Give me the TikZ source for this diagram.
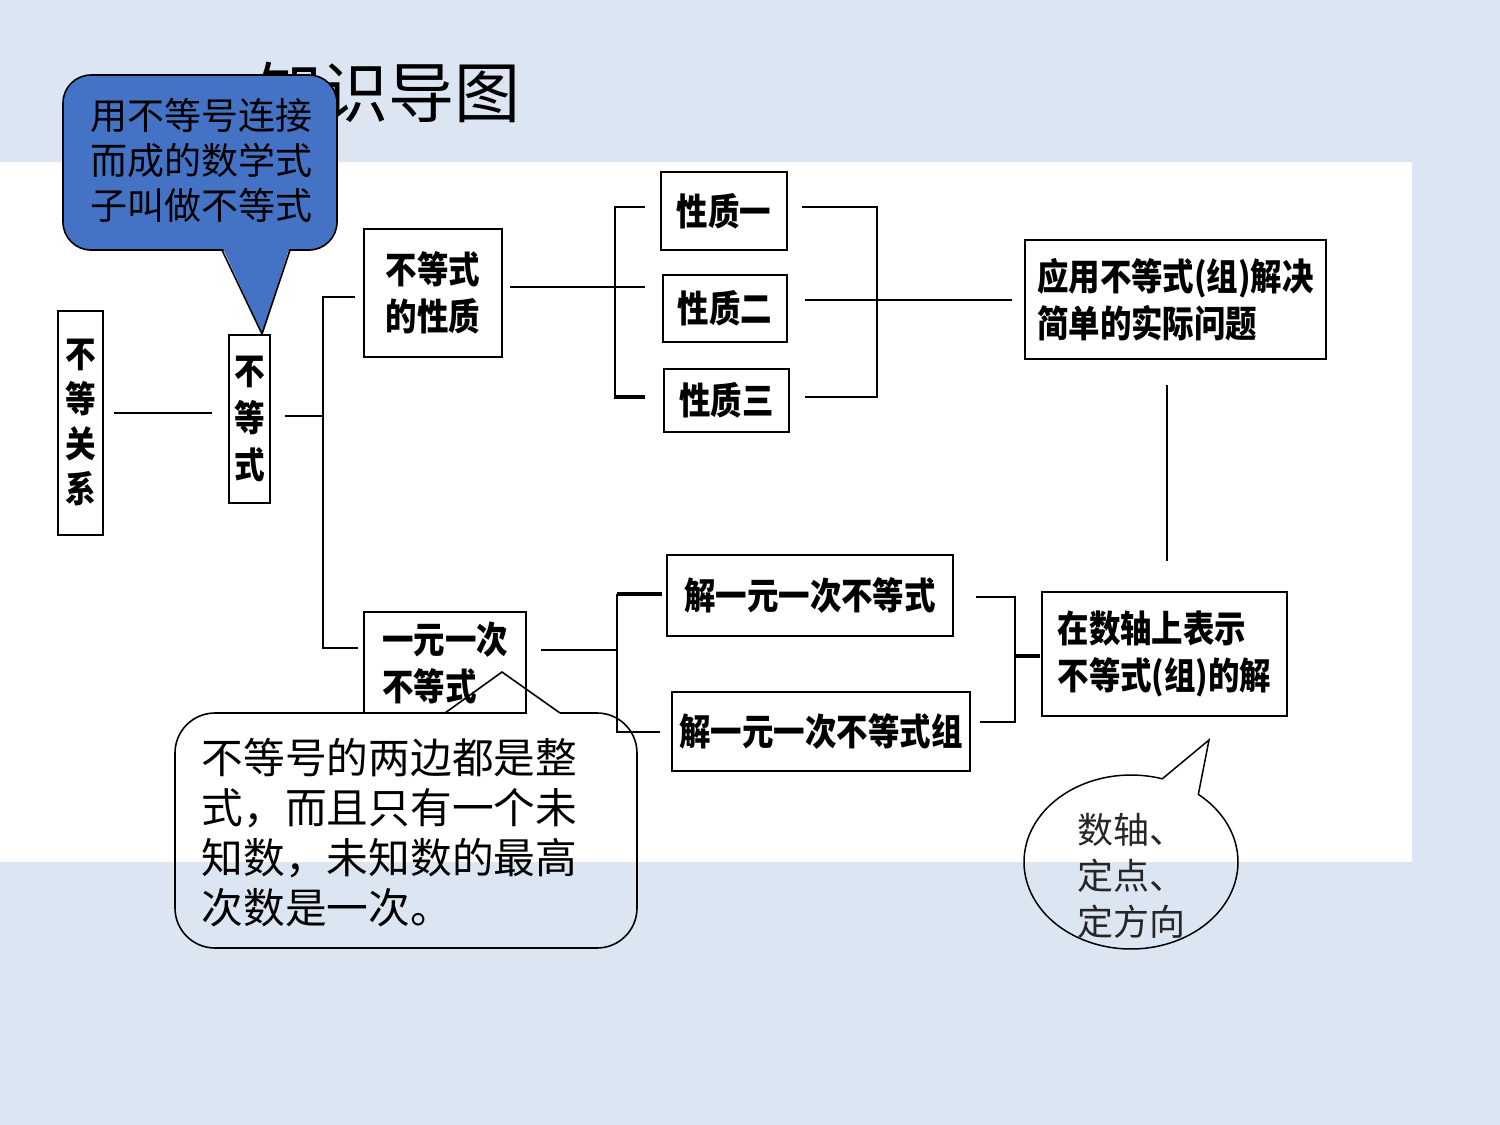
\documentclass[tikz,border=0pt]{standalone}
\usepackage{fontspec}
\setmainfont{Noto Sans CJK SC}
\newfontfamily\cjk{Noto Sans CJK SC}
\newfontfamily\boxf[FakeStretch=0.85]{Noto Sans CJK SC}
\usetikzlibrary{calc}
\definecolor{bgblue}{HTML}{DCE6F2}
\definecolor{calloutblue}{HTML}{4472C4}
\begin{document}
\begin{tikzpicture}[x=1pt,y=-1pt,
  box/.style={draw=black, line width=2.6pt, inner sep=0pt, align=left,
    font=\boxf\bfseries\fontsize{37}{47}\selectfont},
  vbox/.style={box, align=center},
  conn/.style={line width=2.2pt},
  thickconn/.style={line width=3.2pt}]
\fill[bgblue] (0,0) rectangle (1500,1125);
\fill[white] (0,162) rectangle (1412,862);
\useasboundingbox (0,0) rectangle (1500,1125);

% title
\node[font=\cjk\fontsize{66}{66}\selectfont] (title) at (388,92) {知识导图};

% boxes
\node[vbox, minimum width=45pt, minimum height=224pt, font=\boxf\bfseries\fontsize{36}{45}\selectfont] (rel) at (80.5,423) {不\\等\\关\\系};
\node[vbox, minimum width=41pt, minimum height=168pt, font=\boxf\bfseries\fontsize{36}{47}\selectfont] (ineq) at (249.5,419) {不\\等\\式};
\node[box, minimum width=138pt, minimum height=128pt] (prop) at (433,293) {不等式\\的性质};
\node[box, minimum width=126pt, minimum height=78pt] (p1) at (724,211) {性质一};
\node[box, minimum width=124pt, minimum height=67pt] (p2) at (725,308.5) {性质二};
\node[box, minimum width=125pt, minimum height=63pt] (p3) at (726.5,400.5) {性质三};
\node[box, minimum width=301pt, minimum height=119pt] (app) at (1175.5,299.5) {应用不等式(组)解决\\简单的实际问题};
\node[box, minimum width=162pt, minimum height=101pt, line width=1.8pt] (lin) at (445,662.5) {一元一次\\不等式};
\node[box, minimum width=286pt, minimum height=81pt] (s1) at (810,595.5) {解一元一次不等式};
\node[box, minimum width=298pt, minimum height=79pt] (s2) at (821,731.5) {解一元一次不等式组};
\node[box, minimum width=245pt, minimum height=124pt] (axis) at (1164.5,654) {在数轴上表示\\不等式(组)的解};

% junction coordinates
\coordinate (a1) at (114,413); \coordinate (a2) at (212,413);
\coordinate (b1) at (285,416); \coordinate (b2) at (323,416);
\coordinate (c1) at (355,297); \coordinate (c2) at (323,297);
\coordinate (c3) at (323,648); \coordinate (c4) at (358,648);
\coordinate (d1) at (510,287); \coordinate (d2) at (645,287);
\coordinate (e1) at (645,207); \coordinate (e2) at (615,207);
\coordinate (e3) at (615,399); \coordinate (e4) at (615,397); \coordinate (e5) at (645,397);
\coordinate (f1) at (802,207); \coordinate (f2) at (877,207);
\coordinate (f3) at (877,397); \coordinate (f4) at (805,397);
\coordinate (g1) at (805,300); \coordinate (g2) at (1012,300);
\coordinate (h1) at (1167,385); \coordinate (h2) at (1167,561);
\coordinate (i1) at (541,650); \coordinate (i2) at (617,650);
\coordinate (j1) at (662,594); \coordinate (j2) at (617,594);
\coordinate (j3) at (617,732); \coordinate (j4) at (660,732);
\coordinate (k1) at (976,597); \coordinate (k2) at (1015,597);
\coordinate (k3) at (1015,722); \coordinate (k4) at (980,722);
\coordinate (k5) at (1015,656); \coordinate (k6) at (1040,656);

\draw[conn] (a1) -- (a2);
\draw[conn] (b1) -- (b2);
\draw[conn] (c1) -- (c2) -- (c3) -- (c4);
\draw[conn] (d1) -- (d2);
\draw[conn] (e1) -- (e2) -- (e3);
\draw[thickconn] (e4) -- (e5);
\draw[conn] (f1) -- (f2) -- (f3) -- (f4);
\draw[conn] (g1) -- (g2);
\draw[conn] (h1) -- (h2);
\draw[conn] (i1) -- (i2);
\draw[thickconn] (j1) -- (j2);
\draw[conn] (j2) -- (j3) -- (j4);
\draw[conn] (k1) -- (k2) -- (k3) -- (k4);
\draw[thickconn] (k5) -- (k6);

% blue callout
\draw[fill=calloutblue, line width=1.6pt, rounded corners=28pt] (63,75) rectangle (337,250);
\fill[calloutblue] (222.5,247.5) -- (289.5,247.5) -- (262,333) -- cycle;
\draw[line width=1.6pt, line join=miter] (222,250) -- (262,334) -- (290,250);
\node[font=\cjk\fontsize{37}{45}\selectfont, align=left, text=black] (def) at (201,160) {用不等号连接\\而成的数学式\\子叫做不等式};

% bottom callout
\draw[line width=1.6pt, rounded corners=40pt] (445,713) -- (175,713) -- (175,948) -- (637,948) -- (637,713) -- (560,713);
\draw[line width=1.6pt] (445,713) -- (502,672) -- (560,713);
\node[font=\cjk\fontsize{41.7}{50}\selectfont, align=left] (note) at (389.5,833) {不等号的两边都是整\\式，而且只有一个未\\知数，未知数的最高\\次数是一次。};

% ellipse callout
\draw[line width=1.5pt] plot[domain=73:411, samples=120] ({1131+107*cos(\x)}, {862-87*sin(\x)}) -- (1209,740) -- cycle;
\node[font=\cjk\fontsize{36}{46}\selectfont, align=left, text=black!85] (hint) at (1131,876) {数轴、\\定点、\\定方向};
\end{tikzpicture}
\end{document}
